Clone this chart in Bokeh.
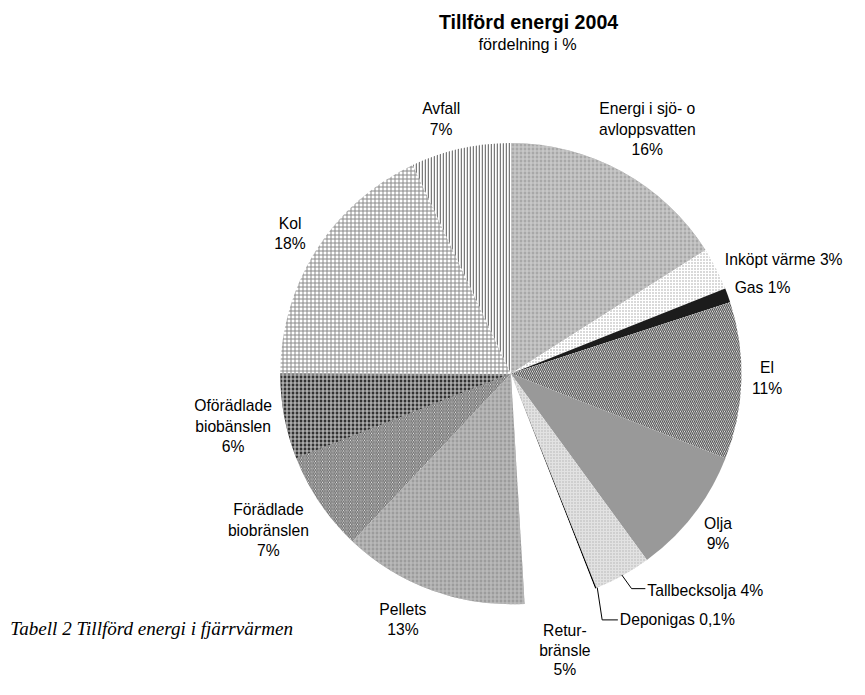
import math
from bokeh.plotting import figure
from bokeh.models import Range1d, ColumnDataSource
from bokeh.core.properties import value
from bokeh.embed import file_html
from bokeh.resources import INLINE

# ---- data ----
categories = ["Energi i sjö- o avloppsvatten", "Inköpt värme", "Gas", "El", "Olja",
              "Tallbecksolja", "Deponigas", "Returbränsle", "Pellets",
              "Förädlade biobränslen", "Oförädlade biobänslen", "Kol", "Avfall"]
shares = [16, 3, 1, 11, 9, 4, 0.1, 5, 13, 7, 6, 18, 7]

# ---- styles (per slice) ----
fills = ["#a8a8a8", "#ffffff", "#1c1c1c", "#ffffff", "#999999", "#e2e2e2", "#000000",
         "#ffffff", "#9c9c9c", "#ffffff", "#333333", "#ffffff", "#ffffff"]
hatches = ["+", ".", " ", "\\", " ", ".", " ", " ", "+", "\\", "+", "+", "|"]
hatch_colors = ["#cfcfcf", "#a0a0a0", "#000000", "#5a5a5a", "#000000", "#b0b0b0", "#000000",
                "#000000", "#c0c0c0", "#6a6a6a", "#c8c8c8", "#8a8a8a", "#7a7a7a"]
hatch_scales = [4, 3, 4, 4, 4, 3, 4, 4, 4, 3.5, 4, 4, 3]
hatch_weights = [1.2, 1, 1, 1.3, 1, 1, 1, 1, 1.2, 1.2, 1.2, 1, 1.5]

# figure size (fits window) and reference-pixel coordinate space
W, H = 849, 679
RW, RH = 865, 695
K = W / RW  # font scale

def fx(x):
    return x

def fy(y):
    return RH - y

CX, CY, R = 520, fy(382), 235

total = sum(shares)
starts, ends = [], []
c = 0.0
for s in shares:
    c0 = c
    c += s / total
    starts.append(math.pi / 2 - 2 * math.pi * c)
    ends.append(math.pi / 2 - 2 * math.pi * c0)

src = ColumnDataSource(dict(start=starts, end=ends, fill=fills, hatch=hatches,
                            hcol=hatch_colors, hscale=hatch_scales, hweight=hatch_weights))

p = figure(width=W, height=H, output_backend="svg", toolbar_location=None,
           x_range=Range1d(0, RW), y_range=Range1d(0, RH), min_border=0)
p.axis.visible = False
p.grid.visible = False
p.outline_line_color = None
p.background_fill_color = "white"
p.border_fill_color = "white"

p.wedge(x=CX, y=CY, radius=R, start_angle="start", end_angle="end", source=src,
        fill_color="fill", line_color=None,
        hatch_pattern="hatch", hatch_color="hcol", hatch_scale="hscale",
        hatch_weight="hweight")

def fs(px):
    return f"{px * K:.1f}px"

# title
p.text(x=[fx(538)], y=[fy(22)], text=["Tillförd energi 2004"], text_font=value("Liberation Sans"),
       text_font_style="bold", text_font_size=fs(20), text_align="center",
       text_baseline="middle", text_color="black")
p.text(x=[fx(537)], y=[fy(45)], text=["fördelning i %"], text_font=value("Liberation Sans"),
       text_font_size=fs(16.5), text_align="center", text_baseline="middle", text_color="black")

# labels: (lines, x, y of first line, align) in reference pixels
labels = [
    (["Avfall", "7%"], 449, 111, "center"),
    (["Energi i sjö- o", "avloppsvatten", "16%"], 659, 111, "center"),
    (["Inköpt värme 3%"], 738, 265, "left"),
    (["Gas 1%"], 748, 294, "left"),
    (["El", "11%"], 781, 376, "center"),
    (["Olja", "9%"], 731, 535, "center"),
    (["Tallbecksolja 4%"], 659, 604, "left"),
    (["Deponigas 0,1%"], 631, 634, "left"),
    (["Retur-", "bränsle", "5%"], 575, 645, "center"),
    (["Pellets", "13%"], 410, 623, "center"),
    (["Förädlade", "biobränslen", "7%"], 273, 521, "center"),
    (["Oförädlade", "biobänslen", "6%"], 237, 415, "center"),
    (["Kol", "18%"], 295, 228, "center"),
]
LH = 21
for lines, x, y, al in labels:
    lh = 20 if lines[0] == "Retur-" else LH
    xs = [fx(x)] * len(lines)
    ys = [fy(y + i * lh) for i in range(len(lines))]
    p.text(x=xs, y=ys, text=lines, text_font=value("Liberation Sans"), text_font_size=fs(16),
           text_align=al, text_baseline="middle", text_color="black")

# leader lines
p.line(x=[fx(633), fx(643), fx(657)], y=[fy(588), fy(602), fy(602)], line_color="black", line_width=1)
p.line(x=[fx(608), fx(613), fx(629)], y=[fy(601), fy(634), fy(634)], line_color="black", line_width=1)

# caption
p.text(x=[fx(10)], y=[fy(643)], text=["Tabell 2 Tillförd energi i fjärrvärmen"],
       text_font=value("Liberation Serif"), text_font_style="italic", text_font_size=fs(19.5),
       text_align="left", text_baseline="middle", text_color="black")

open("out.html", "w").write(file_html(p, INLINE))
